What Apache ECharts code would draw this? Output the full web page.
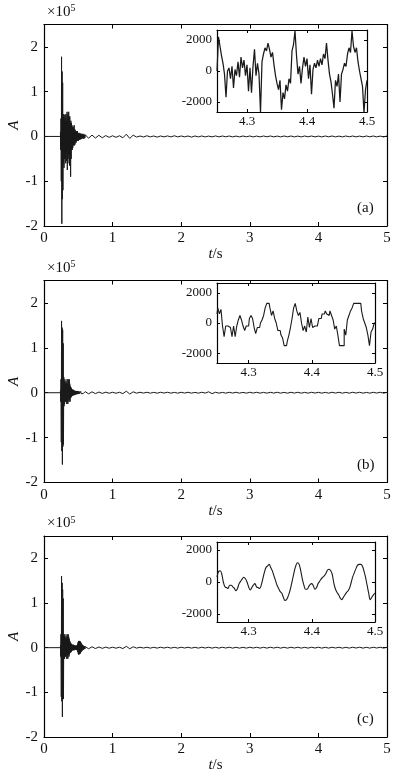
<!DOCTYPE html>
<html>
<head>
<meta charset="utf-8">
<script src="https://cdn.jsdelivr.net/npm/echarts@6/dist/echarts.min.js"></script>
<style>html,body{margin:0;padding:0;background:#fff;}#c{width:399px;height:779px;}</style>
</head>
<body>
<div id="c"></div>
<script>
// ---- tick labels / text ----
const mainTicksX = [0, 1, 2, 3, 4, 5];
const mainTicksY = [-2, -1, 0, 1, 2];
const insetTicksX = [4.3, 4.4, 4.5];
const insetTicksY = [-2000, 0, 2000];
const panelLabels = ['(a)', '(b)', '(c)'];

// ---- sampling ----
const burstStart = 0.24, burstStep = 0.004;
const tailStart = 0.60, tailStep = 0.05;
const insetStart = 4.25, insetStep = 0.0025;

// ---- main signals (units of 1e5) ----
const burstA = [0.1,-0.3,0.4,-1.0,1.78,-1.95,1.45,-1.4,1.2,-1.2,
0.45,-0.6,0.5,-0.7,0.38,-0.5,0.48,-0.45,0.42,-0.6,
0.5,-0.35,0.35,-0.55,0.55,-0.75,0.45,-0.6,0.5,-0.4,
0.55,-0.5,0.4,-0.65,0.45,-0.4,0.3,-0.9,0.35,-0.5,
0.3,-0.3,0.25,-0.3,0.2,-0.25,0.22,-0.2,0.18,-0.15,
0.25,-0.2,0.12,-0.18,0.15,-0.12,0.1,-0.14,0.12,-0.1,
0.1,-0.08,0.12,-0.1,0.08,-0.1,0.07,-0.06,0.08,-0.07,
0.06,-0.08,0.05,-0.05,0.07,-0.05,0.05,-0.06,0.04,-0.04,
0.05,-0.04,0.06,-0.04,0.04,-0.05,0.03,-0.04,0.04,-0.03];
const tailA = [0.04,-0.04,0.03,-0.035,0.025,-0.03,0.02,-0.02,0.015,-0.02,0.015,
-0.03,0.05,-0.045,0.03,
-0.015,0.01,-0.012,0.015,-0.01,0.01,-0.015,0.01,-0.01,0.012,
-0.01,0.015,-0.01,0.01,-0.008,0.01,-0.015,0.01,-0.01,0.01,
-0.01,0.008,-0.01,0.012,-0.01,0.01,-0.008,0.01,-0.01,0.008,
-0.01,0.01,-0.008,0.01,-0.01,0.008,-0.01,0.01,-0.008,0.01,
-0.01,0.008,-0.01,0.01,-0.008,0.01,-0.01,0.008,-0.01,0.01,
-0.008,0.01,-0.01,0.008,-0.01,0.01,-0.008,0.01,-0.01,0.008,
-0.01,0.01,-0.008,0.01,-0.01,0.008,-0.01,0.01,-0.008,0.01,
-0.01,0.008,-0.01,0.01,-0.008];
const burstB = [0.05,-0.2,0.3,-1.1,1.6,-1.3,1.45,-1.6,1.4,-1.2,
1.1,-1.15,0.35,-0.3,0.25,-0.25,0.3,-0.2,0.2,-0.2,
0.25,-0.15,0.2,-0.25,0.3,-0.2,0.2,-0.25,0.3,-0.15,
0.25,-0.2,0.3,-0.15,0.2,-0.2,0.15,-0.12,0.12,-0.1,
0.1,-0.08,0.08,-0.07,0.06,-0.06,0.07,-0.05,0.05,-0.06,
0.05,-0.04,0.04,-0.05,0.04,-0.03,0.04,-0.04,0.03,-0.03,
0.04,-0.03,0.03,-0.03,0.03,-0.03,0.03,-0.02,0.03,-0.02,
0.02,-0.03,0.02,-0.02,0.03,-0.02,0.02,-0.02,0.02,-0.02,
0.02,-0.02,0.02,-0.02,0.02,-0.02,0.02,-0.02,0.02,-0.02];
const tailB = [0.025,-0.025,0.02,-0.02,0.015,-0.015,0.012,-0.012,0.01,-0.012,0.01,
-0.02,0.035,-0.03,0.02,
-0.01,0.01,-0.008,0.01,-0.01,0.008,-0.01,0.01,-0.008,0.01,
-0.01,0.008,-0.01,0.01,-0.008,0.01,-0.01,0.008,-0.01,0.01,
-0.008,0.02,-0.02,0.01,-0.01,0.008,-0.01,0.01,-0.008,0.01,
-0.01,0.008,-0.01,0.01,-0.008,0.01,-0.01,0.008,-0.01,0.01,
-0.008,0.01,-0.01,0.008,-0.01,0.01,-0.008,0.01,-0.01,0.008,
-0.01,0.01,-0.008,0.01,-0.01,0.008,-0.01,0.01,-0.008,0.01,
-0.01,0.008,-0.01,0.01,-0.008,0.01,-0.01,0.008,-0.01,0.01,
-0.008,0.01,-0.01,0.008,-0.01];
const burstC = [0.05,-0.2,0.3,-1.1,1.6,-1.2,1.45,-1.55,1.3,-1.15,
1.1,-1.15,0.3,-0.25,0.25,-0.25,0.3,-0.2,0.2,-0.2,
0.25,-0.15,0.2,-0.25,0.3,-0.2,0.25,-0.25,0.3,-0.15,
0.25,-0.2,0.2,-0.15,0.15,-0.12,0.12,-0.1,0.1,-0.1,
0.08,-0.07,0.07,-0.06,0.06,-0.06,0.07,-0.05,0.05,-0.06,
0.05,-0.04,0.05,-0.05,0.04,-0.04,0.05,-0.04,0.04,-0.05,
0.05,-0.06,0.08,-0.1,0.12,-0.14,0.15,-0.16,0.15,-0.14,
0.15,-0.12,0.14,-0.13,0.12,-0.1,0.1,-0.08,0.08,-0.07,
0.06,-0.05,0.05,-0.04,0.04,-0.04,0.03,-0.03,0.03,-0.03];
const tailC = [0.025,-0.025,0.02,-0.02,0.015,-0.015,0.012,-0.012,0.01,-0.012,0.01,
-0.02,0.03,-0.025,0.02,
-0.01,0.01,-0.008,0.01,-0.01,0.008,-0.01,0.01,-0.008,0.01,
-0.01,0.008,-0.01,0.01,-0.008,0.01,-0.01,0.008,-0.01,0.01,
-0.008,0.01,-0.01,0.008,-0.01,0.01,-0.008,0.01,-0.01,0.008,
-0.01,0.008,-0.01,0.01,-0.008,0.01,-0.01,0.008,-0.01,0.01,
-0.008,0.01,-0.01,0.008,-0.01,0.01,-0.008,0.01,-0.01,0.008,
-0.01,0.01,-0.008,0.01,-0.01,0.008,-0.01,0.01,-0.008,0.01,
-0.01,0.008,-0.01,0.01,-0.008,0.01,-0.01,0.008,-0.01,0.01,
-0.008,0.01,-0.01,0.008,-0.01];

// ---- inset signals (4.25 s .. 4.5 s) ----
const insetA = [0,2200,1600,1000,500,-200,-1700,0,200,-500,
300,-1100,100,-300,600,-400,900,200,700,-300,
400,-1300,200,-1400,300,1400,-300,500,-200,-2700,
600,1100,1500,1300,1800,1400,900,1200,400,-300,
-800,-1200,-600,-2500,-1400,-1800,-900,-1300,-500,-800,
1300,1700,2600,1000,-200,300,-800,200,900,300,
800,-500,400,-1500,100,500,200,700,300,800,
400,1100,800,1800,700,-200,-700,-1500,-2400,-600,
-1000,-200,-2000,-200,100,500,300,1100,1500,1200,
2600,1600,1200,1500,600,0,-500,-1000,-2700,-1200,-600];
const insetB = [600,1000,600,900,-200,-900,-200,-200,-300,-200,
-900,-200,-900,-200,200,500,200,-200,-500,-200,
-200,300,500,300,-300,-700,-300,-300,0,200,
500,1000,1300,1300,1000,500,800,300,0,-500,
-500,-800,-1000,-1500,-1500,-1200,-800,-300,300,1000,
1300,800,500,700,0,-500,-200,-600,400,-300,
300,-300,-200,-200,-200,300,300,600,600,800,
600,500,800,500,200,-400,-200,-800,-1500,-1500,
-1500,-400,-800,200,500,800,1000,1300,1300,1300,
1300,1300,800,300,0,-300,-800,-1500,-600,-400,0];
const insetC = [300,650,700,500,0,-300,-350,-400,-200,-200,
-300,-400,-550,-400,-100,50,200,300,200,0,
-300,-500,-350,-200,-100,-300,-350,-400,-200,200,
600,900,1000,1100,900,700,400,100,-200,-400,
-600,-700,-950,-1150,-1100,-900,-600,-200,250,700,
1050,1200,1100,700,200,-200,-450,-450,-300,-150,
-100,-250,-450,-350,-100,50,200,300,400,550,
750,800,700,450,-100,-450,-650,-800,-1000,-1100,
-950,-800,-650,-550,-350,0,350,600,850,1050,
1100,1100,1000,700,300,-200,-700,-1100,-950,-800,-700];

// ---- layout (pixels) ----
const FONT = 'Liberation Serif';
const layout = [
  {top: 24.5, h: 201.5, iTop: 30, iH: 82, iW: 150},
  {top: 280.5, h: 202, iTop: 283, iH: 80, iW: 158},
  {top: 536, h: 201, iTop: 542, iH: 80, iW: 158}
];
const mainLeft = 44, mainW = 343, insetLeft = 217;
const insetRange = [[-2650, 2650], [-2650, 2650], [-2500, 2500]];
const bursts = [burstA, burstB, burstC];
const tails = [tailA, tailB, tailC];
const insets = [insetA, insetB, insetC];
const insetMode = ['plain', 'step', 'smooth'];
const insetWidth = [1.25, 1.1, 1.1];

function mainData(burst, tail) {
  const d = [[0, 0], [burstStart, 0]];
  burst.forEach((v, i) => d.push([burstStart + i * burstStep, v]));
  tail.forEach((v, i) => d.push([tailStart + i * tailStep, v]));
  return d;
}
function insetData(vals) {
  return vals.map((v, i) => [insetStart + i * insetStep, v]);
}

const grids = [], xAxes = [], yAxes = [], series = [], graphics = [];
const tick = {inside: true, length: 4, lineStyle: {color: '#000', width: 1}};
const axLine = {show: true, onZero: false, lineStyle: {color: '#000', width: 1.2}};

layout.forEach((L, p) => {
  const gMain = grids.length;
  grids.push({left: mainLeft, top: L.top, width: mainW, height: L.h, containLabel: false, outerBoundsMode: 'none'});
  const gIn = grids.length;
  grids.push({left: insetLeft, top: L.iTop, width: L.iW, height: L.iH, show: true,
    backgroundColor: '#fff', borderWidth: 0, z: 5, containLabel: false, outerBoundsMode: 'none'});

  // main axes
  const xm = xAxes.length;
  xAxes.push({gridIndex: gMain, type: 'value', min: 0, max: 5, position: 'bottom',
    axisLine: axLine, splitLine: {show: false},
    axisTick: Object.assign({customValues: mainTicksX}, tick),
    axisLabel: {customValues: mainTicksX, fontFamily: FONT, fontSize: 15, color: '#111', margin: 5},
    name: '{i|t}/s', nameLocation: 'middle', nameGap: 21, nameMoveOverlap: false,
    nameTextStyle: {fontFamily: FONT, fontSize: 15, color: '#111',
      rich: {i: {fontFamily: FONT, fontSize: 15, fontStyle: 'italic', color: '#111'}}}});
  xAxes.push({gridIndex: gMain, type: 'value', min: 0, max: 5, position: 'top',
    axisLine: axLine, splitLine: {show: false},
    axisTick: Object.assign({customValues: mainTicksX}, tick), axisLabel: {show: false}});
  const ym = yAxes.length;
  yAxes.push({gridIndex: gMain, type: 'value', min: -2, max: 2.5, position: 'left',
    axisLine: axLine, splitLine: {show: false},
    axisTick: Object.assign({customValues: mainTicksY}, tick),
    axisLabel: {customValues: mainTicksY, fontFamily: FONT, fontSize: 15, color: '#111', margin: 6},
    name: 'A', nameLocation: 'middle', nameGap: 22, nameRotate: 90, nameMoveOverlap: false,
    nameTextStyle: {fontFamily: FONT, fontSize: 15, fontStyle: 'italic', color: '#111'}});
  yAxes.push({gridIndex: gMain, type: 'value', min: -2, max: 2.5, position: 'right',
    axisLine: axLine, splitLine: {show: false},
    axisTick: Object.assign({customValues: mainTicksY}, tick), axisLabel: {show: false}});

  // inset axes
  const xi = xAxes.length;
  xAxes.push({gridIndex: gIn, type: 'value', min: 4.25, max: 4.5, position: 'bottom', z: 6,
    axisLine: axLine, splitLine: {show: false},
    axisTick: Object.assign({customValues: insetTicksX}, tick, {length: 3}),
    axisLabel: {customValues: insetTicksX, fontFamily: FONT, fontSize: 13, color: '#111', margin: 3,
      formatter: v => v.toFixed(1)}});
  xAxes.push({gridIndex: gIn, type: 'value', min: 4.25, max: 4.5, position: 'top', z: 6,
    axisLine: axLine, splitLine: {show: false},
    axisTick: Object.assign({customValues: insetTicksX}, tick, {length: 3}), axisLabel: {show: false}});
  const yi = yAxes.length;
  yAxes.push({gridIndex: gIn, type: 'value', min: insetRange[p][0], max: insetRange[p][1], position: 'left', z: 6,
    axisLine: axLine, splitLine: {show: false},
    axisTick: Object.assign({customValues: insetTicksY}, tick, {length: 3}),
    axisLabel: {customValues: insetTicksY, fontFamily: FONT, fontSize: 13, color: '#111', margin: 5,
      formatter: v => String(Math.round(v))}});
  yAxes.push({gridIndex: gIn, type: 'value', min: insetRange[p][0], max: insetRange[p][1], position: 'right', z: 6,
    axisLine: axLine, splitLine: {show: false},
    axisTick: Object.assign({customValues: insetTicksY}, tick, {length: 3}), axisLabel: {show: false}});

  series.push({type: 'line', xAxisIndex: xm, yAxisIndex: ym, data: mainData(bursts[p], tails[p]),
    showSymbol: false, symbol: 'none', lineStyle: {color: '#1a1a1a', width: 1}, z: 2, silent: true});
  series.push({type: 'line', xAxisIndex: xi, yAxisIndex: yi, data: insetData(insets[p]),
    showSymbol: false, symbol: 'none', smooth: insetMode[p] === 'smooth' ? 0.4 : false,
    step: insetMode[p] === 'step' ? 'middle' : false,
    lineStyle: {color: '#1a1a1a', width: insetWidth[p]}, z: 7, silent: true});

  graphics.push({type: 'text', left: 47, top: L.top - 21, z: 10,
    style: {text: '×10{s|5}', font: '15px "Liberation Serif"', fill: '#111',
      rich: {s: {fontSize: 10, fontFamily: FONT, verticalAlign: 'top', padding: [0, 0, 7, 0]}}}});
  graphics.push({type: 'text', left: 357, top: L.top + L.h - 25, z: 10,
    style: {text: panelLabels[p], font: '15px "Liberation Serif"', fill: '#111'}});
});

const chart = echarts.init(document.getElementById('c'), null, {renderer: 'canvas'});
chart.setOption({
  backgroundColor: '#fff',
  animation: false,
  grid: grids, xAxis: xAxes, yAxis: yAxes, series: series, graphic: graphics
});
</script>
</body>
</html>
